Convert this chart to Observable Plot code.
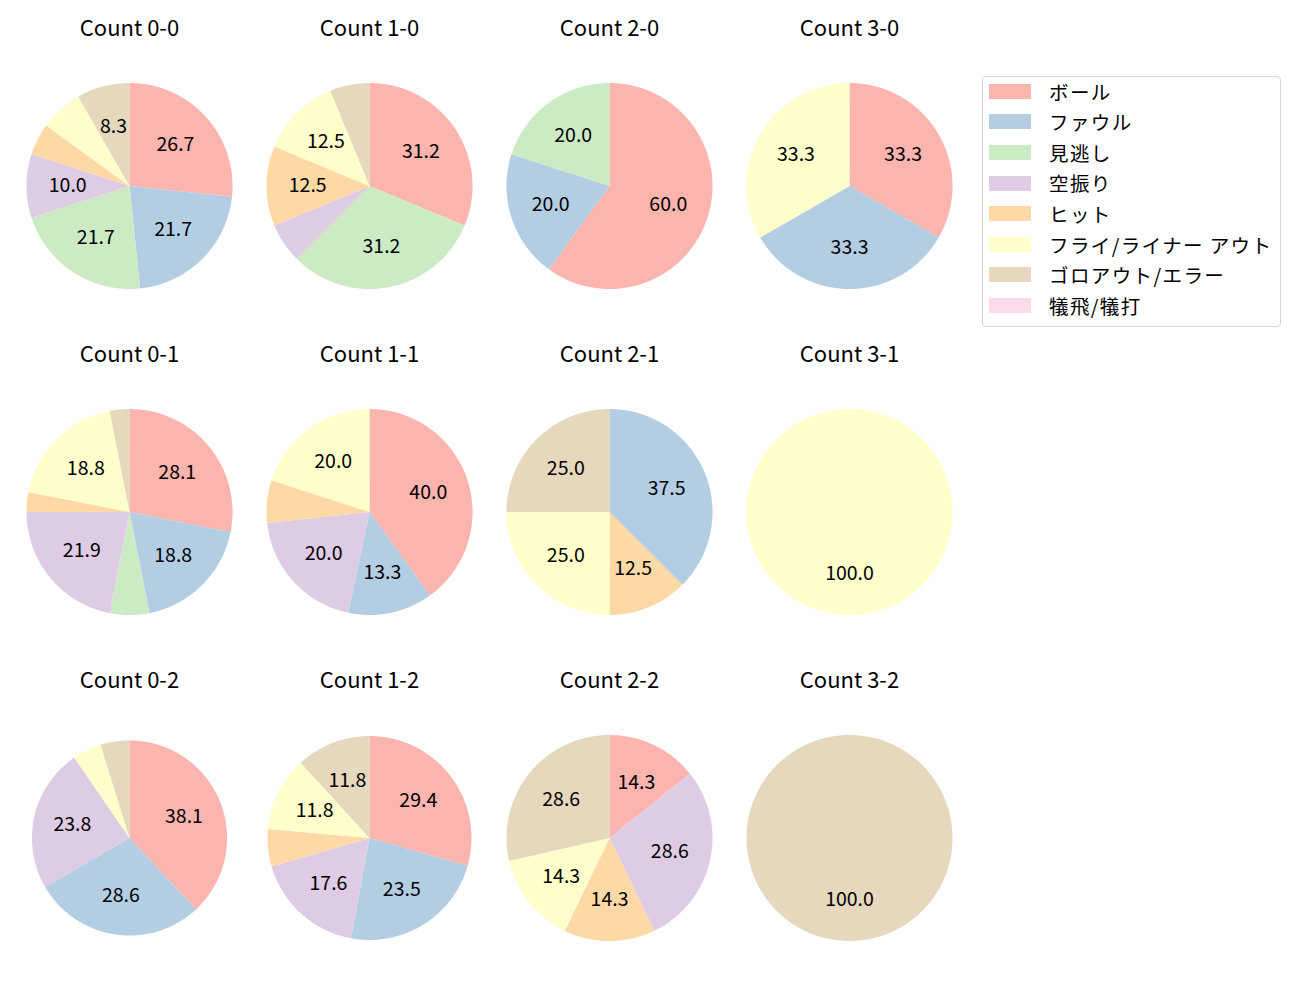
<!DOCTYPE html>
<html>
<head>
<meta charset="utf-8">
<script src="https://cdn.jsdelivr.net/npm/d3@7"></script>
<script src="https://cdn.jsdelivr.net/npm/@observablehq/plot@0.6"></script>
<style>
  html, body { margin: 0; padding: 0; background: #fff; overflow: hidden; }
  #wrap { position: relative; width: 1300px; height: 1000px; font-family: "Noto Sans CJK JP", sans-serif; }
  #chart { position: absolute; left: 0; top: 0; }
  #legend { position: absolute; left: 982px; top: 76px; width: 299px; height: 251px; box-sizing: border-box;
            border: 1px solid #d6d6d6; border-radius: 4px; padding-top: 0; background: rgba(255,255,255,0.8); }
  .row { display: flex; align-items: center; height: 30.6px; }
  .row:first-child { margin-top: -1px; }
  .sw { width: 42px; height: 15px; margin-left: 6px; margin-right: 18px; flex: none; }
  .lab { font-size: 19.5px; letter-spacing: 1.4px; color: #000; white-space: nowrap; line-height: 1; }
</style>
</head>
<body>
<div id="wrap">
  <div id="chart"></div>
  <div id="legend"></div>
</div>
<script>
// ---- data ----
const categories = ["ボール", "ファウル", "見逃し", "空振り", "ヒット", "フライ/ライナー アウト", "ゴロアウト/エラー", "犠飛/犠打"];
const colors = ["#fbb4ae", "#b3cde3", "#ccebc5", "#decbe4", "#fed9a6", "#ffffcc", "#e5d8bd", "#fddaec"];
const counts = ["0-0", "1-0", "2-0", "3-0", "0-1", "1-1", "2-1", "3-1", "0-2", "1-2", "2-2", "3-2"];

// percentages per category (order as in categories)
const count00 = [26.7, 21.7, 21.7, 10.0, 5.0, 6.7, 8.3, 0];
const count10 = [31.2, 0, 31.2, 6.2, 12.5, 12.5, 6.2, 0];
const count20 = [60.0, 20.0, 20.0, 0, 0, 0, 0, 0];
const count30 = [33.3, 33.3, 0, 0, 0, 33.3, 0, 0];
const count01 = [28.1, 18.8, 6.2, 21.9, 3.1, 18.8, 3.1, 0];
const count11 = [40.0, 13.3, 0, 20.0, 6.7, 20.0, 0, 0];
const count21 = [0, 37.5, 0, 0, 12.5, 25.0, 25.0, 0];
const count31 = [0, 0, 0, 0, 0, 100.0, 0, 0];
const count02 = [38.1, 28.6, 0, 23.8, 0, 4.8, 4.8, 0];
const count12 = [29.4, 23.5, 0, 17.6, 5.9, 11.8, 11.8, 0];
const count22 = [14.3, 0, 0, 28.6, 14.3, 14.3, 28.6, 0];
const count32 = [0, 0, 0, 0, 0, 0, 100.0, 0];

const series = [count00, count10, count20, count30, count01, count11, count21, count31, count02, count12, count22, count32];
// relative pie size (one pie is drawn slightly smaller in the original)
const radiusScale = [1, 1, 1, 1, 1, 1, 1, 1, 0.947, 0.99, 1, 1];
const labelThreshold = 7;

// ---- build wedge polygons (like d3.pie, start at top, clockwise) ----
const pieRows = [];
const labelRows = [];
const titleRows = [];
counts.forEach((c, i) => {
  const [b, s] = c.split("-");
  const vals = series[i];
  const total = d3.sum(vals);
  const rs = radiusScale[i];
  titleRows.push({b, s, text: "Count " + c});
  let acc = 0;
  vals.forEach((v, k) => {
    if (!(v > 0)) return;
    const a0 = acc / total * 2 * Math.PI;
    const a1 = (acc + v) / total * 2 * Math.PI;
    acc += v;
    const key = c + "|" + k;
    const cat = categories[k];
    pieRows.push({key, cat, b, s, px: 0, py: 0});
    const n = Math.max(2, Math.ceil((a1 - a0) / (Math.PI / 360)));
    for (let j = 0; j <= n; j++) {
      const a = a0 + (a1 - a0) * j / n;
      pieRows.push({key, cat, b, s, px: rs * Math.sin(a), py: rs * Math.cos(a)});
    }
    if (v >= labelThreshold) {
      const am = (a0 + a1) / 2;
      labelRows.push({b, s, px: 0.6 * rs * Math.sin(am), py: 0.6 * rs * Math.cos(am), text: v.toFixed(1)});
    }
  });
});

const R = 103;          // pie radius in px
const cellW = 240, cellH = 326, centerFromTop = 163.5;

const chart = Plot.plot({
  width: 9 + 4 * cellW,
  height: 1000,
  marginLeft: 9, marginRight: 0, marginTop: 22, marginBottom: 0,
  x: {domain: [-(cellW / 2) / R, (cellW / 2) / R], axis: null},
  y: {domain: [-(cellH - centerFromTop) / R, centerFromTop / R], axis: null},
  fx: {domain: ["0", "1", "2", "3"], padding: 0, axis: null},
  fy: {domain: ["0", "1", "2"], padding: 0, axis: null},
  color: {domain: categories, range: colors},
  style: {fontFamily: "'Noto Sans CJK JP', sans-serif", background: "transparent", overflow: "visible"},
  marks: [
    Plot.line(pieRows, {x: "px", y: "py", z: "key", fill: "cat", stroke: "none", fx: "b", fy: "s", curve: "linear"}),
    Plot.text(labelRows, {x: "px", y: "py", text: "text", fx: "b", fy: "s", fontSize: 19.5, fill: "#000"}),
    Plot.text(titleRows, {x: () => 0, y: () => 157 / R, text: "text", fx: "b", fy: "s", fontSize: 22, fill: "#000"})
  ]
});
document.getElementById("chart").appendChild(chart);

// ---- legend ----
const legend = document.getElementById("legend");
categories.forEach((cat, k) => {
  const row = document.createElement("div");
  row.className = "row";
  const sw = document.createElement("div");
  sw.className = "sw";
  sw.style.background = colors[k];
  const lab = document.createElement("div");
  lab.className = "lab";
  lab.textContent = cat;
  row.appendChild(sw);
  row.appendChild(lab);
  legend.appendChild(row);
});
</script>
</body>
</html>
